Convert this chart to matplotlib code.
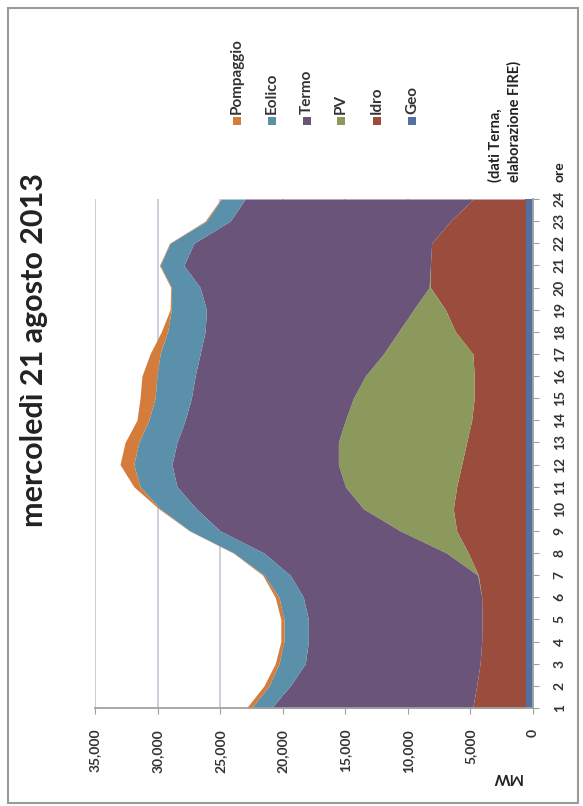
import matplotlib.pyplot as plt
from matplotlib.patches import Rectangle
import numpy as np

plt.rcParams['font.family'] = ['Lato', 'DejaVu Sans']

ore = list(range(1, 25))

# produzione oraria per fonte, MW
geo = [600, 600, 600, 600, 600, 600, 600, 600, 600, 600, 600, 600,
       600, 600, 600, 600, 600, 600, 600, 600, 600, 600, 600, 600]
idro = [4220, 3900, 3630, 3500, 3470, 3500, 3770, 4570, 5500, 5770, 5500, 5100,
        4700, 4300, 4100, 4100, 4200, 5600, 6400, 7600, 7600, 7500, 6000, 4170]
pv = [0, 0, 0, 0, 0, 0, 50, 1730, 4500, 7180, 8900, 9850,
      10250, 10100, 9650, 8700, 7150, 4550, 2550, 100, 0, 0, 0, 0]
termo = [16080, 14900, 13970, 13850, 13880, 14250, 14980, 14600, 14400, 13350, 13450, 13300,
         12900, 12800, 12950, 13600, 14650, 15450, 16550, 18300, 19700, 19000, 17600, 18230]
eolico = [1600, 1700, 2100, 1950, 1950, 1950, 2100, 2400, 2400, 2900, 2950, 3050,
          3050, 2900, 2900, 3050, 3200, 3000, 2800, 2300, 1900, 1900, 1900, 1900]
pompaggio = [400, 400, 300, 250, 250, 300, 100, 50, 50, 100, 500, 1100,
             1100, 950, 1200, 1200, 800, 500, 100, 50, 50, 50, 100, 50]

serie = [geo, idro, pv, termo, eolico, pompaggio]
nomi = ['Geo', 'Idro', 'PV', 'Termo', 'Eolico', 'Pompaggio']
colori = ['#5470a2', '#9a4c3d', '#8b9a5c', '#6a5479', '#5b90ab', '#d47c3c']

W, H = 583, 806
fig = plt.figure(figsize=(W / 100, H / 100), dpi=100)
fig.patch.set_facecolor('white')

# cornice esterna
fig.add_artist(Rectangle((8 / W, 1 - 803 / H), 570 / W, 795 / H, transform=fig.transFigure,
                         fill=False, edgecolor='#9a9a9a', lw=1.5))

ax = fig.add_axes([95 / W, 1 - 708 / H, (533 - 95) / W, (708 - 199) / H])

# aree impilate, ore in verticale e MW in orizzontale (0 a destra)
base = np.zeros(len(ore))
for vals, col in zip(serie, colori):
    top = base + np.array(vals)
    ax.fill_betweenx(ore, base, top, color=col, lw=0)
    base = top

ax.set_xlim(35000, 0)
ax.set_ylim(1, 24)
ax.set_xticks(range(0, 35001, 5000))
ax.set_xticklabels([f'{v:,}' for v in range(0, 35001, 5000)], rotation=90,
                   fontsize=10, fontweight='bold', color='#333333')
ax.yaxis.tick_right()
ax.set_yticks(ore)
ax.set_yticklabels([str(h) for h in ore], rotation=90, va='center',
                   fontsize=10, fontweight='bold', color='#333333')
ax.tick_params(axis='x', length=4, color='#a0a0a0', pad=11)
ax.tick_params(axis='y', length=4, color='#a0a0a0', pad=11)
ax.grid(axis='x', color='#c8c8d8', lw=1.3)
ax.set_axisbelow(True)
for s in ['top', 'left']:
    ax.spines[s].set_visible(False)
for s in ['bottom', 'right']:
    ax.spines[s].set_color('#a0a0a0')
    ax.spines[s].set_linewidth(1.3)

fig.text(34 / W, 1 - 350 / H, 'mercoledì 21 agosto 2013', rotation=90,
         fontsize=22, fontweight='bold', ha='center', va='center', color='#222222')
fig.text(505 / W, 1 - 182 / H, '(dati Terna,\nelaborazione FIRE)', rotation=90,
         fontsize=10.5, fontweight='bold', ha='center', va='bottom',
         multialignment='left', color='#222222', linespacing=1.4)
fig.text(559 / W, 1 - 172 / H, 'ore', rotation=90, fontsize=10, fontweight='bold',
         ha='center', va='center', color='#222222')
fig.text(507 / W, 1 - 777 / H, 'MW', rotation=180, fontsize=11, fontweight='bold',
         ha='center', va='center', color='#222222')

# legenda verticale, dal Pompaggio al Geo
leg_x = [237, 272, 307, 341, 377, 412]
for nome, col, x in zip(nomi[::-1], colori[::-1], leg_x):
    fig.add_artist(Rectangle(((x - 4) / W, 1 - 125 / H), 8 / W, 8 / H,
                             transform=fig.transFigure, color=col, lw=0))
    fig.text(x / W, 1 - 114 / H, nome, rotation=90, fontsize=11, fontweight='bold',
             ha='center', va='bottom', color='#333333')

fig.savefig('out.png', dpi=100)
